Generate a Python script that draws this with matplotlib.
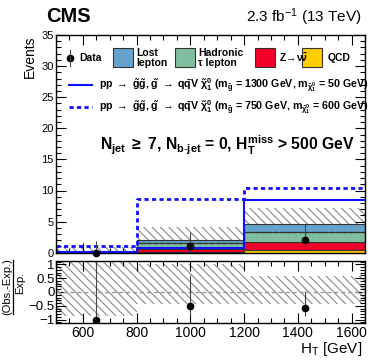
import matplotlib
matplotlib.use("Agg")
import matplotlib.pyplot as plt
import numpy as np
from matplotlib.patches import Rectangle
from matplotlib.lines import Line2D
from matplotlib.ticker import MultipleLocator

plt.rcParams['font.family'] = ['Liberation Sans', 'DejaVu Sans']
plt.rcParams['mathtext.fontset'] = 'custom'
plt.rcParams['mathtext.rm'] = 'Liberation Sans'
plt.rcParams['mathtext.it'] = 'Liberation Sans:italic'
plt.rcParams['mathtext.bf'] = 'Liberation Sans:bold'
plt.rcParams['mathtext.sf'] = 'Liberation Sans'
plt.rcParams['mathtext.default'] = 'regular'
plt.rcParams['hatch.color'] = '#888888'
plt.rcParams['hatch.linewidth'] = 0.8

# ---- data ----
edges = [500, 800, 1200, 1650]
data_x = [650, 1000, 1425]
data_y = [0, 1, 2]
data_up = [1.84, 2.3, 2.64]
data_dn = [0.0, 0.83, 1.3]

qcd = [0.0, 0.05, 0.40]
znn = [0.02, 0.60, 1.35]
tau = [0.03, 0.85, 1.65]
lost = [0.05, 0.60, 1.16]

unc_lo = [0.0, 1.15, 2.55]
unc_hi = [0.9, 4.15, 7.2]

sig1300 = [0.05, 0.7, 8.4]
sig750 = [1.06, 8.7, 10.45]

ratio_y = [-1.0, -0.51, -0.56]
ratio_hi = [1.2, 0.6, 0.02]
ratio_lo = [-1.0, -0.92, -0.85]
ratio_band_lo = [-0.87, -0.44, -0.44]
ratio_band_hi = [1.2, 1.0, 0.58]

xticks = [600, 800, 1000, 1200, 1400, 1600]

c_lost = '#66a3cc'
c_tau = '#80bf9e'
c_z = '#f2002a'
c_qcd = '#ffcc00'
c_sig = '#1010ff'

W, H = 374, 363
fig = plt.figure(figsize=(W / 100, H / 100), dpi=100)

def fx(px):
    return px / W

def fy(py):
    return 1 - py / H

ax = fig.add_axes([fx(56), fy(252.7), fx(365) - fx(56), fy(35) - fy(252.7)])
axr = fig.add_axes([fx(56), fy(323), fx(365) - fx(56), fy(261) - fy(323)])

e = np.array(edges)

def step(vals):
    return np.append(vals, vals[-1])

# uncertainty hatch (behind stack)
for i in range(3):
    ax.add_patch(Rectangle((e[i], unc_lo[i]), e[i + 1] - e[i], unc_hi[i] - unc_lo[i],
                           facecolor='none', edgecolor='#888888', hatch='\\\\\\\\',
                           linewidth=0, zorder=1))

# stacked backgrounds
bottom = np.zeros(3)
for vals, col in [(qcd, c_qcd), (znn, c_z), (tau, c_tau), (lost, c_lost)]:
    v = np.array(vals)
    ax.bar(e[:-1], v, width=np.diff(e), bottom=bottom, align='edge', color=col,
           edgecolor='none', zorder=2)
    ax.step(e, step(bottom + v), where='post', color='#333333', lw=0.8, zorder=3)
    bottom = bottom + v

# dark dashed line at tau/lost boundary
tb = np.array(qcd) + np.array(znn) + np.array(tau)
ax.step(e, step(tb), where='post', color='#333333', lw=1.0, ls=(0, (3, 1.5)), zorder=3)

# signals
ax.step(e, step(np.array(sig1300)), where='post', color=c_sig, lw=1.5, zorder=5)
ax.plot([e[0], e[0]], [0, sig1300[0]], color=c_sig, lw=1.5, zorder=5)
ax.step(e, step(np.array(sig750)), where='post', color=c_sig, lw=2.0,
        ls=(0, (1.5, 1.2)), zorder=5)
ax.plot([e[0], e[0]], [0, sig750[0]], color=c_sig, lw=2.0, ls=(0, (1.5, 1.2)), zorder=5)

# data
ax.errorbar(data_x, data_y, yerr=[data_dn, data_up], fmt='o', color='black',
            ms=4.5, ecolor='#444444', elinewidth=0.8, capsize=0, zorder=6, clip_on=False)

ax.set_xlim(500, 1650)
ax.set_ylim(0, 35)
ax.yaxis.set_major_locator(MultipleLocator(5))
ax.yaxis.set_minor_locator(MultipleLocator(1))
ax.set_xticks(xticks)
ax.xaxis.set_minor_locator(MultipleLocator(50))
ax.tick_params(axis='x', labelbottom=False)
ax.set_yticks([0, 5, 10, 15, 20, 25, 30, 35])
ax.set_yticklabels(['0', '5', '10', '15', '20', '25', '30', '35'])

for a in (ax, axr):
    a.tick_params(which='both', direction='in', top=True, right=True, width=0.8,
                  colors='black', zorder=7)
    for s in a.spines.values():
        s.set_linewidth(1.0)
        s.set_zorder(8)
ax.tick_params(which='major', length=7, labelsize=8, pad=1.5)
ax.tick_params(which='minor', length=3.5)

# ratio panel
for i in range(3):
    axr.add_patch(Rectangle((e[i], ratio_band_lo[i]), e[i + 1] - e[i],
                            ratio_band_hi[i] - ratio_band_lo[i],
                            facecolor='none', edgecolor='#888888', hatch='\\\\\\\\',
                            linewidth=0, zorder=1))
axr.axhline(0, color='#999999', lw=1.0, ls=(0, (3, 2)), zorder=2)
ry = np.array(ratio_y)
axr.errorbar(data_x, ratio_y, yerr=[ry - np.array(ratio_lo), np.array(ratio_hi) - ry],
             fmt='o', color='black', ms=4.5, ecolor='#444444', elinewidth=0.8,
             capsize=0, zorder=5)
axr.set_xlim(500, 1650)
axr.set_ylim(-1.12, 1.12)
axr.set_yticks([-1, -0.5, 0, 0.5, 1])
axr.set_yticklabels(['\u22121', '\u22120.5', '0', '0.5', '1'])
axr.yaxis.set_minor_locator(MultipleLocator(0.1))
axr.set_xticks(xticks)
axr.set_xticklabels([str(t) for t in xticks])
axr.xaxis.set_minor_locator(MultipleLocator(50))
axr.tick_params(axis='x', which='major', length=7, labelsize=10, pad=2)
axr.tick_params(axis='y', which='major', length=7, labelsize=9.5, pad=1)
axr.tick_params(which='minor', length=3.5)

# labels
fig.text(fx(362), fy(349), r'H$_{T}$ [GeV]', ha='right', va='center', fontsize=11)
fig.text(fx(30), fy(36), 'Events', rotation=90, ha='center', va='top', fontsize=10)
# fraction label for ratio
fig.text(fx(7), fy(287), '(Obs.-Exp.)', rotation=90, ha='center', va='center', fontsize=8)
fig.text(fx(20), fy(283), 'Exp.', rotation=90, ha='center', va='center', fontsize=8)
fig.lines.append(Line2D([fx(13), fx(13)], [fy(260), fy(314)], color='black', lw=0.9,
                        transform=fig.transFigure))

fig.text(fx(46), fy(16), 'CMS', ha='left', va='center', fontsize=14.5, fontweight='bold')
fig.text(fx(362), fy(17), r'2.3 fb$^{-1}$ (13 TeV)', ha='right', va='center', fontsize=11)

# legend (manual)
legfs = 7.5
ax.plot([fx(70)], [fy(58)], 'o', color='black', ms=4.5, transform=fig.transFigure,
        clip_on=False)
ax.plot([fx(70), fx(70)], [fy(50), fy(66)], color='#444444', lw=0.8,
        transform=fig.transFigure, clip_on=False)
fig.text(fx(79), fy(58), 'Data', ha='left', va='center', fontsize=legfs, fontweight='bold')
boxes = [(113, c_lost, 'Lost\nlepton', 136),
         (175, c_tau, 'Hadronic\n\u03c4 lepton', 198),
         (255, c_z, r'Z$\mathbf{\!\rightarrow\!}\mathbf{\nu\!\bar{\nu}}$', 279),
         (302, c_qcd, 'QCD', 328)]
for bx, col, lab, tx in boxes:
    fig.patches.append(Rectangle((fx(bx), fy(67)), fx(20), fy(48) - fy(67), facecolor=col,
                                 edgecolor='#333333', lw=0.8, transform=fig.transFigure))
    fig.text(fx(tx), fy(58), lab, ha='left', va='center', fontsize=legfs,
             fontweight='bold', linespacing=1.0)

sigfs = 7.7
fig.lines.append(Line2D([fx(69), fx(92)], [fy(85), fy(85)], color=c_sig, lw=1.5,
                        transform=fig.transFigure))
fig.lines.append(Line2D([fx(69), fx(92)], [fy(107), fy(107)], color=c_sig, lw=2.0,
                        ls=(0, (1.5, 1.2)), transform=fig.transFigure))
s1 = (r'pp $\rightarrow$ $\mathbf{\tilde{g}\tilde{g}}$, $\mathbf{\tilde{g}}$ $\rightarrow$ '
      r'q$\mathbf{\bar{q}}$V $\tilde{\chi}_{1}^{0}$ (m$_{\mathbf{\tilde{g}}}$ = 1300 GeV, '
      r'm$_{\tilde{\chi}_{1}^{0}}$ = 50 GeV)')
s2 = (r'pp $\rightarrow$ $\mathbf{\tilde{g}\tilde{g}}$, $\mathbf{\tilde{g}}$ $\rightarrow$ '
      r'q$\mathbf{\bar{q}}$V $\tilde{\chi}_{1}^{0}$ (m$_{\mathbf{\tilde{g}}}$ = 750 GeV, '
      r'm$_{\tilde{\chi}_{1}^{0}}$ = 600 GeV)')
fig.text(fx(99), fy(85), s1, ha='left', va='center', fontsize=sigfs, fontweight='bold')
fig.text(fx(99), fy(107), s2, ha='left', va='center', fontsize=sigfs, fontweight='bold')

fig.text(fx(100), fy(145),
         r'N$_{\mathbf{jet}}$ $\geq$ 7, N$_{\mathbf{b\text{-}jet}}$ = 0, '
         r'H$_{\mathbf{T}}^{\mathbf{miss}}$ > 500 GeV',
         ha='left', va='center', fontsize=11.3, fontweight='bold')

fig.savefig('out.png', dpi=100)
